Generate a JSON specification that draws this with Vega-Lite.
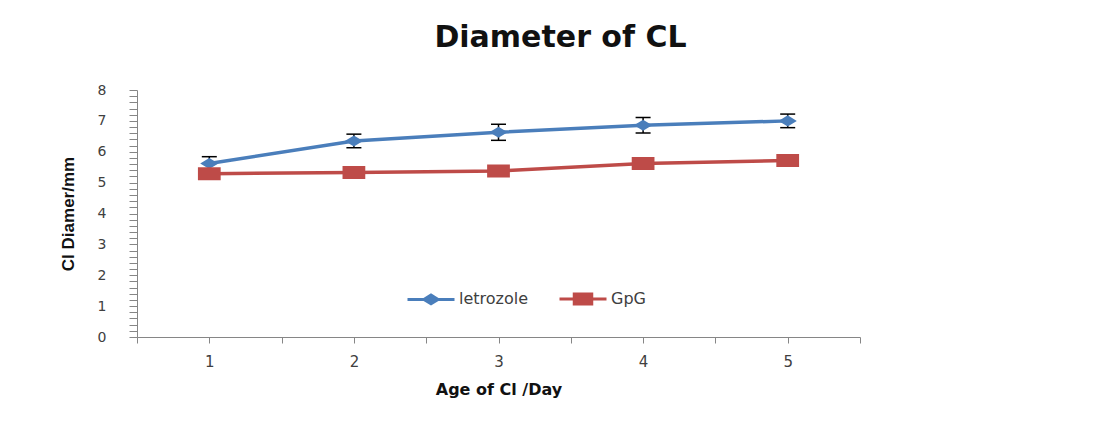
{
  "$schema": "https://vega.github.io/schema/vega-lite/v6.json",
  "width": 723,
  "height": 247,
  "autosize": "none",
  "padding": {"left": 137, "top": 90, "right": 253, "bottom": 88},
  "background": "white",
  "config": {"view": {"stroke": null}, "font": "DejaVu Sans"},
  "title": {
    "text": "Diameter of CL",
    "font": "DejaVu Sans",
    "fontSize": 30,
    "fontWeight": "bold",
    "color": "#111111",
    "anchor": "middle",
    "dx": 62,
    "baseline": "alphabetic",
    "offset": 6
  },
  "data": {
    "values": [
      {"day": 1, "series": "letrozole", "mean": 5.62, "lo": 5.40, "hi": 5.84},
      {"day": 2, "series": "letrozole", "mean": 6.35, "lo": 6.13, "hi": 6.57},
      {"day": 3, "series": "letrozole", "mean": 6.63, "lo": 6.37, "hi": 6.89},
      {"day": 4, "series": "letrozole", "mean": 6.86, "lo": 6.61, "hi": 7.11},
      {"day": 5, "series": "letrozole", "mean": 7.00, "lo": 6.78, "hi": 7.22},
      {"day": 1, "series": "GpG", "mean": 5.29, "lo": null, "hi": null},
      {"day": 2, "series": "GpG", "mean": 5.33, "lo": null, "hi": null},
      {"day": 3, "series": "GpG", "mean": 5.38, "lo": null, "hi": null},
      {"day": 4, "series": "GpG", "mean": 5.62, "lo": null, "hi": null},
      {"day": 5, "series": "GpG", "mean": 5.72, "lo": null, "hi": null}
    ]
  },
  "encoding": {
    "x": {
      "field": "day",
      "type": "quantitative",
      "scale": {"domain": [0.5, 5.5], "nice": false, "zero": false},
      "axis": {
        "title": "Age of Cl /Day",
        "titleFont": "DejaVu Sans",
        "titleFontSize": 16,
        "titleFontWeight": "bold",
        "titleColor": "#111111",
        "titlePadding": 12,
        "values": [0.5, 1, 1.5, 2, 2.5, 3, 3.5, 4, 4.5, 5, 5.5],
        "tickCount": 20,
        "labelExpr": "datum.value % 1 === 0 ? datum.value : ''",
        "labelOverlap": false,
        "labelFlush": false,
        "labelFontSize": 15,
        "labelColor": "#404040",
        "labelPadding": 11,
        "tickSize": 6,
        "tickColor": "#868686",
        "domainColor": "#868686",
        "grid": false
      }
    },
    "color": {
      "field": "series",
      "type": "nominal",
      "scale": {"domain": ["letrozole", "GpG"], "range": ["#4A7EBB", "#BE4B48"]},
      "legend": {
        "orient": "none",
        "legendX": 286,
        "legendY": 201,
        "direction": "horizontal",
        "title": null,
        "labelFont": "DejaVu Sans",
        "labelFontSize": 16,
        "labelColor": "#404040",
        "symbolSize": 100,
        "symbolStrokeWidth": 3,
        "labelOffset": 20,
        "columnPadding": 24,
        "padding": 0,
        "encode": {
          "symbols": {
            "update": {
              "fill": {"value": {"signal": "scale('color', datum.value)"}},
              "stroke": {"value": {"signal": "scale('color', datum.value)"}},
              "strokeWidth": {"value": 3},
              "opacity": {"value": 1},
              "fillOpacity": {"value": 1},
              "strokeOpacity": {"value": 1}
            }
          }
        }
      }
    }
  },
  "layer": [
    {
      "mark": {"type": "line", "strokeWidth": 3.5},
      "encoding": {
        "y": {
          "field": "mean",
          "type": "quantitative",
          "scale": {"domain": [0, 8], "nice": false},
          "axis": {
            "title": "Cl Diamer/mm",
            "titleFont": "Liberation Sans",
            "titleFontSize": 17,
            "titleFontWeight": "bold",
            "titleColor": "#111111",
            "titlePadding": 20,
            "tickCount": 60,
            "values": [0, 0.2, 0.4, 0.6, 0.8, 1, 1.2, 1.4, 1.6, 1.8, 2, 2.2, 2.4, 2.6, 2.8, 3, 3.2, 3.4, 3.6, 3.8, 4, 4.2, 4.4, 4.6, 4.8, 5, 5.2, 5.4, 5.6, 5.8, 6, 6.2, 6.4, 6.6, 6.8, 7, 7.2, 7.4, 7.6, 7.8, 8],
            "labelExpr": "datum.value % 1 === 0 ? datum.value : ''",
            "labelOverlap": false,
            "labelFlush": false,
            "labelFontSize": 14,
            "labelColor": "#404040",
            "labelPadding": 23,
            "tickSize": 8,
            "tickColor": "#868686",
            "domainColor": "#868686",
            "grid": false
          }
        }
      }
    },
    {
      "transform": [{"filter": "isValid(datum.lo)"}],
      "mark": {"type": "rule", "strokeWidth": 1.5, "color": "black"},
      "encoding": {
        "y": {"field": "lo", "type": "quantitative"},
        "y2": {"field": "hi"},
        "color": {"value": "black"}
      }
    },
    {
      "transform": [{"filter": "isValid(datum.lo)"}],
      "mark": {"type": "tick", "orient": "horizontal", "size": 15, "thickness": 1.5, "color": "black", "opacity": 1},
      "encoding": {
        "y": {"field": "lo", "type": "quantitative"},
        "color": {"value": "black"}
      }
    },
    {
      "transform": [{"filter": "isValid(datum.hi)"}],
      "mark": {"type": "tick", "orient": "horizontal", "size": 15, "thickness": 1.5, "color": "black", "opacity": 1},
      "encoding": {
        "y": {"field": "hi", "type": "quantitative"},
        "color": {"value": "black"}
      }
    },
    {
      "mark": {"type": "point", "filled": true, "size": 169, "opacity": 1},
      "encoding": {
        "y": {"field": "mean", "type": "quantitative"},
        "shape": {
          "field": "series",
          "type": "nominal",
          "scale": {"domain": ["letrozole", "GpG"], "range": ["M-4.7,0H4.7M0,-0.85L1.4,0L0,0.85L-1.4,0Z", "M-4.7,0H4.7M-1.75,-1H1.75V1H-1.75Z"]},
          "legend": null
        }
      }
    }
  ]
}
